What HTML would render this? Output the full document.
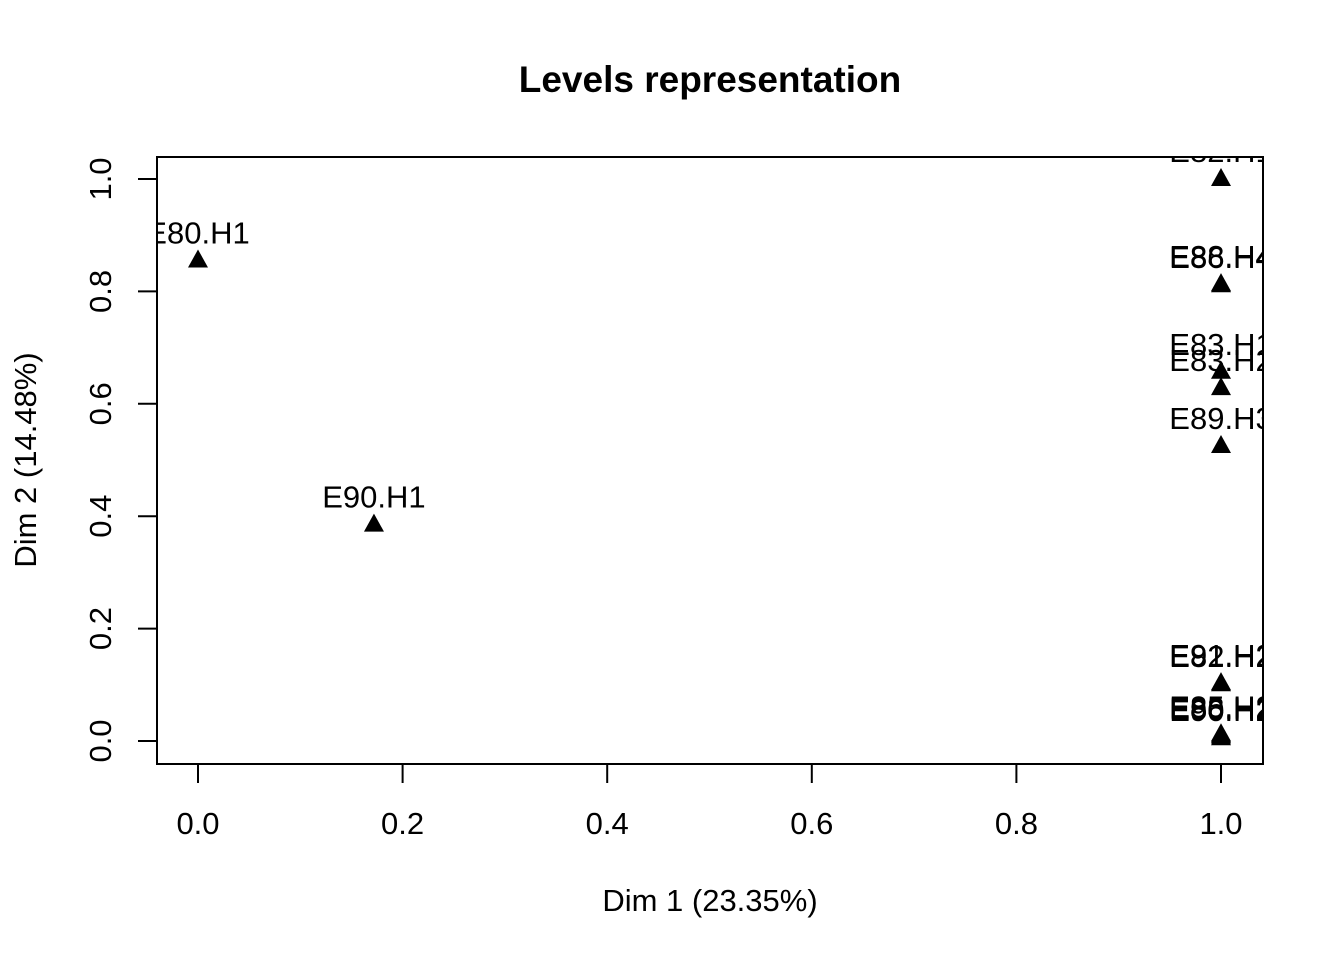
<!DOCTYPE html>
<html><head><meta charset="utf-8"><style>
body{margin:0;background:#fff;}
svg{display:block;font-family:"Liberation Sans",Arial,sans-serif;}
</style></head><body>
<svg id="chart" width="1344" height="960">
<defs><clipPath id="pc"><rect x="157" y="157" width="1106" height="607"/></clipPath></defs>
<text x="710" y="92" text-anchor="middle" font-size="37" font-weight="bold">Levels representation</text>
<rect x="157" y="157" width="1106" height="607" fill="none" stroke="#000" stroke-width="2"/>
<g id="xaxis"></g>
<g id="yaxis"></g>
<text x="710" y="911" text-anchor="middle" font-size="31">Dim 1 (23.35%)</text>
<text transform="translate(36,460) rotate(-90)" text-anchor="middle" font-size="31">Dim 2 (14.48%)</text>
<g id="pts" clip-path="url(#pc)"></g>
</svg>
<script>
const labels=["E80.H1","E90.H1","E82.H1","E86.H4","E88.H4","E83.H1","E83.H2","E89.H3","E91.H2","E82.H2","E85.H2","E86.H2","E90.H2","E88.H2"];
const xs=[0,0.172,1,1,1,1,1,1,1,1,1,1,1,1];
const ys=[0.855,0.385,1.0,0.811,0.813,0.657,0.628,0.525,0.103,0.101,0.012,0.008,0.005,0.010];
const xticks=[0,0.2,0.4,0.6,0.8,1.0];
const xtickLabels=["0.0","0.2","0.4","0.6","0.8","1.0"];
const yticks=[0,0.2,0.4,0.6,0.8,1.0];
const ytickLabels=["0.0","0.2","0.4","0.6","0.8","1.0"];
const NS="http://www.w3.org/2000/svg";
const sx=v=>198+v*1023, sy=v=>741-v*562;
function mk(t,a,p){const e=document.createElementNS(NS,t);for(const k in a)e.setAttribute(k,a[k]);p.appendChild(e);return e;}
const xa=document.getElementById('xaxis'),ya=document.getElementById('yaxis'),pg=document.getElementById('pts');
mk('line',{x1:sx(0),x2:sx(1),y1:764,y2:764,stroke:'#000','stroke-width':2},xa);
xticks.forEach((v,i)=>{const l=mk('line',{x1:sx(v),x2:sx(v),y1:764,y2:783,stroke:'#000','stroke-width':2},xa);


const t=mk('text',{x:sx(v),y:834,'text-anchor':'middle','font-size':31},xa);t.textContent=xtickLabels[i];

});
mk('line',{x1:157,x2:157,y1:sy(0),y2:sy(1),stroke:'#000','stroke-width':2},ya);
yticks.forEach((v,i)=>{const l=mk('line',{x1:138,x2:157,y1:sy(v),y2:sy(v),stroke:'#000','stroke-width':2},ya);


const t=mk('text',{transform:`translate(111,${sy(v)}) rotate(-90)`,'text-anchor':'middle','font-size':31},ya);t.textContent=ytickLabels[i];

});
labels.forEach((lab,i)=>{const x=sx(xs[i]),y=sy(ys[i]);
const p=mk('polygon',{points:`${x},${y-11} ${x-10},${y+7} ${x+10},${y+7}`,fill:'#000'},pg);


const t=mk('text',{x:x,y:y-17,'text-anchor':'middle','font-size':31},pg);t.textContent=lab;

});
</script>
</body></html>
